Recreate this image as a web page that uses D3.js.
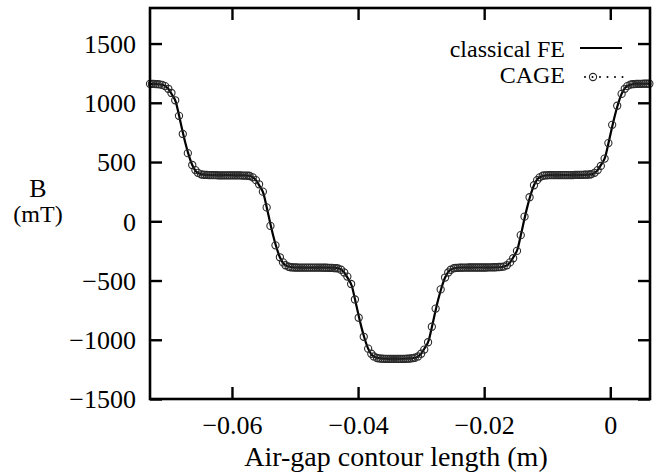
<!DOCTYPE html>
<html>
<head>
<meta charset="utf-8">
<script src="https://cdn.jsdelivr.net/npm/d3@7"></script>
<style>
  html, body { margin: 0; padding: 0; background: #fff; }
  #chart text { font-family: 'Liberation Serif', 'DejaVu Serif', serif; }
</style>
</head>
<body>
<svg id="chart" width="667" height="472"></svg>
<script>
// tick values
const xTicks = [-0.06, -0.04, -0.02, 0];
const yTicks = [-1500, -1000, -500, 0, 500, 1000, 1500];

// classical FE (solid line): contour length (m), B (mT)
const feX = [
  -0.0730,
  -0.0719, -0.0709, -0.0701, -0.0695, -0.0689, -0.0684, -0.0679, -0.0674, -0.0669, -0.0663, -0.0657, -0.0649, -0.0639,
  -0.0610,
  -0.0580, -0.0570, -0.0562, -0.0556, -0.0550, -0.0545, -0.0540, -0.0535, -0.0530, -0.0524, -0.0518, -0.0510, -0.0500,
  -0.0470,
  -0.0440, -0.0430, -0.0422, -0.0416, -0.0410, -0.0405, -0.0400, -0.0395, -0.0390, -0.0384, -0.0378, -0.0370, -0.0360,
  -0.0339,
  -0.0318, -0.0308, -0.0300, -0.0294, -0.0288, -0.0283, -0.0278, -0.0273, -0.0268, -0.0262, -0.0256, -0.0248, -0.0238,
  -0.0208,
  -0.0177, -0.0167, -0.0159, -0.0153, -0.0147, -0.0142, -0.0137, -0.0132, -0.0127, -0.0121, -0.0115, -0.0107, -0.0097,
  -0.0068,
  -0.0038, -0.0028, -0.0020, -0.0014, -0.0008, -0.0003, 0.0002, 0.0007, 0.0012, 0.0018, 0.0024, 0.0032, 0.0042,
  0.0063
];
const feB = [
  1160,
  1158, 1150, 1118, 1068, 1006, 894, 775, 663, 567, 475, 421, 398, 390,
  389,
  388, 380, 347, 296, 234, 121, 0, -113, -211, -304, -359, -382, -390,
  -391,
  -392, -400, -432, -482, -544, -656, -775, -887, -983, -1075, -1129, -1152, -1160,
  -1162,
  -1158, -1150, -1118, -1068, -1006, -894, -775, -663, -567, -475, -421, -398, -390,
  -390,
  -388, -380, -347, -296, -234, -121, 0, 113, 211, 304, 359, 382, 390,
  390,
  392, 400, 432, 482, 544, 656, 775, 887, 983, 1075, 1129, 1152, 1160,
  1161
];

// CAGE (circles): contour length (m), B (mT)
const cageX = [
  -0.0730, -0.0727, -0.0724, -0.0721, -0.0718, -0.0715,
  -0.0711, -0.0706, -0.0701, -0.0696, -0.0690, -0.0684, -0.0678, -0.0670, -0.0663, -0.0658, -0.0654, -0.0649,
  -0.0646, -0.0643, -0.0640, -0.0637, -0.0634, -0.0631, -0.0628, -0.0625, -0.0622, -0.0619, -0.0616, -0.0613, -0.0610,
  -0.0607, -0.0604, -0.0601, -0.0598, -0.0595, -0.0592, -0.0589, -0.0586, -0.0583, -0.0580, -0.0577, -0.0574,
  -0.0572, -0.0567, -0.0562, -0.0557, -0.0551, -0.0545, -0.0539, -0.0531, -0.0524, -0.0519, -0.0515, -0.0510,
  -0.0507, -0.0504, -0.0501, -0.0498, -0.0495, -0.0492, -0.0489, -0.0486, -0.0483, -0.0480, -0.0477, -0.0474, -0.0471,
  -0.0468, -0.0465, -0.0462, -0.0459, -0.0456, -0.0453, -0.0450, -0.0447, -0.0444, -0.0441, -0.0438, -0.0435,
  -0.0432, -0.0427, -0.0422, -0.0417, -0.0411, -0.0405, -0.0399, -0.0391, -0.0384, -0.0379, -0.0375, -0.0370,
  -0.0367, -0.0364, -0.0361, -0.0358, -0.0355, -0.0352, -0.0349, -0.0346, -0.0343, -0.0340, -0.0337, -0.0334, -0.0331,
  -0.0328, -0.0325, -0.0322, -0.0319, -0.0316, -0.0313,
  -0.0310, -0.0305, -0.0300, -0.0295, -0.0289, -0.0283, -0.0277, -0.0269, -0.0262, -0.0257, -0.0253, -0.0248,
  -0.0245, -0.0242, -0.0239, -0.0236, -0.0233, -0.0230, -0.0227, -0.0224, -0.0221, -0.0218, -0.0215, -0.0212, -0.0209,
  -0.0206, -0.0203, -0.0200, -0.0197, -0.0194, -0.0191, -0.0188, -0.0185, -0.0182, -0.0179, -0.0176, -0.0173,
  -0.0169, -0.0164, -0.0159, -0.0154, -0.0148, -0.0142, -0.0136, -0.0128, -0.0121, -0.0116, -0.0112, -0.0107,
  -0.0104, -0.0101, -0.0098, -0.0095, -0.0092, -0.0089, -0.0086, -0.0083, -0.0080, -0.0077, -0.0074, -0.0071, -0.0068,
  -0.0065, -0.0062, -0.0059, -0.0056, -0.0053, -0.0050, -0.0047, -0.0044, -0.0041, -0.0038, -0.0035, -0.0032,
  -0.0030, -0.0025, -0.0020, -0.0015, -0.0009, -0.0003, 0.0003, 0.0011, 0.0018, 0.0023, 0.0027, 0.0032,
  0.0035, 0.0038, 0.0041, 0.0044, 0.0047, 0.0050, 0.0053, 0.0056, 0.0059, 0.0062
];
const cageB = [
  1160, 1160, 1159, 1158, 1157, 1155,
  1152, 1141, 1118, 1083, 1021, 890, 737, 575, 475, 432, 409, 396,
  393, 392, 391, 390, 390, 389, 389, 389, 388, 388, 388, 388, 388,
  388, 388, 388, 388, 388, 388, 387, 387, 386, 386, 385, 384,
  382, 371, 347, 312, 250, 117, -39, -203, -304, -347, -371, -384,
  -388, -389, -390, -390, -391, -391, -391, -391, -391, -391, -391, -391, -391,
  -391, -391, -391, -391, -392, -392, -392, -393, -393, -394, -395, -396,
  -398, -409, -432, -467, -529, -660, -814, -975, -1075, -1118, -1141, -1154,
  -1157, -1159, -1160, -1161, -1161, -1162, -1162, -1162, -1162, -1162, -1162, -1162, -1162,
  -1161, -1161, -1160, -1159, -1157, -1155,
  -1152, -1141, -1118, -1083, -1021, -890, -737, -575, -475, -432, -409, -396,
  -394, -393, -392, -392, -391, -391, -391, -390, -390, -390, -390, -390, -390,
  -390, -390, -390, -390, -389, -389, -389, -388, -388, -387, -386, -385,
  -382, -371, -347, -312, -250, -117, 39, 203, 304, 347, 371, 384,
  387, 388, 389, 389, 390, 390, 390, 390, 390, 390, 390, 390, 390,
  390, 390, 390, 391, 391, 391, 392, 392, 393, 393, 394, 395,
  398, 409, 432, 467, 529, 660, 814, 975, 1075, 1118, 1141, 1154,
  1157, 1158, 1159, 1160, 1160, 1160, 1161, 1161, 1161, 1161
];

const seriesNames = ['classical FE', 'CAGE'];

const margin = {left: 150, right: 17, top: 8, bottom: 73};
const width = 667 - margin.left - margin.right;
const height = 472 - margin.top - margin.bottom;

const svg = d3.select('#chart');
const g = svg.append('g').attr('transform', `translate(${margin.left},${margin.top})`);

const x = d3.scaleLinear().domain([-0.073, 0.0063]).range([0, width]);
const y = d3.scaleLinear().domain([-1500, 1800]).range([height, 0]);

const tickLen = 12;
const xFormat = d => d === 0 ? '0' : d3.format('.2f')(d);

function styleAxis(sel) {
  sel.attr('font-family', null).attr('font-size', 26);
  sel.select('.domain').remove();
  sel.selectAll('.tick line').attr('stroke', '#000').attr('stroke-width', 2.4);
  sel.selectAll('.tick text').attr('fill', '#000');
}

g.append('g')
  .call(d3.axisLeft(y).tickValues(yTicks).tickSize(-tickLen).tickPadding(14).tickFormat(d3.format('d')))
  .call(styleAxis)
  .selectAll('.tick text').attr('dy', '0.34em');

g.append('g')
  .attr('transform', `translate(${width},0)`)
  .call(d3.axisRight(y).tickValues(yTicks).tickSize(-tickLen).tickFormat(''))
  .call(styleAxis);

g.append('g')
  .attr('transform', `translate(0,${height})`)
  .call(d3.axisBottom(x).tickValues(xTicks).tickSize(-tickLen).tickPadding(17).tickFormat(xFormat))
  .call(styleAxis);

g.append('g')
  .call(d3.axisTop(x).tickValues(xTicks).tickSize(-tickLen).tickFormat(''))
  .call(styleAxis);

// series
const feData = feX.map((v, i) => [v, feB[i]]);
const cageData = cageX.map((v, i) => [v, cageB[i]]);

const line = d3.line()
  .x(d => x(d[0]))
  .y(d => y(d[1]))
  .curve(d3.curveMonotoneX);

g.append('path')
  .datum(feData)
  .attr('fill', 'none')
  .attr('stroke', '#000')
  .attr('stroke-width', 2.2)
  .attr('d', line);

g.append('g')
  .selectAll('circle')
  .data(cageData)
  .enter().append('circle')
  .attr('cx', d => x(d[0]))
  .attr('cy', d => y(d[1]))
  .attr('r', 3.6)
  .attr('fill', 'none')
  .attr('stroke', '#2a2a2a')
  .attr('stroke-width', 1.1);

// frame
g.append('rect')
  .attr('width', width)
  .attr('height', height)
  .attr('fill', 'none')
  .attr('stroke', '#000')
  .attr('stroke-width', 2.6);

// legend
const legend = g.append('g')
  .attr('transform', `translate(${565 - margin.left},0)`);
legend.append('text')
  .attr('x', 0).attr('y', 49)
  .attr('text-anchor', 'end')
  .attr('font-size', 24)
  .text(seriesNames[0]);
legend.append('line')
  .attr('x1', 15).attr('x2', 57).attr('y1', 40).attr('y2', 40)
  .attr('stroke', '#000').attr('stroke-width', 2.2);
legend.append('text')
  .attr('x', 0).attr('y', 75)
  .attr('text-anchor', 'end')
  .attr('font-size', 24)
  .text(seriesNames[1]);
legend.append('line')
  .attr('x1', 20).attr('x2', 58).attr('y1', 69).attr('y2', 69)
  .attr('stroke', '#000').attr('stroke-width', 2)
  .attr('stroke-linecap', 'round')
  .attr('stroke-dasharray', '0,7.5');
legend.append('circle')
  .attr('cx', 28).attr('cy', 69).attr('r', 3.6)
  .attr('fill', 'none').attr('stroke', '#2a2a2a').attr('stroke-width', 1.1);

// axis titles
const titles = svg.append('g').attr('fill', '#000');
titles.append('text')
  .attr('x', 396).attr('y', 466)
  .attr('text-anchor', 'middle')
  .attr('font-size', 28)
  .text('Air-gap contour length (m)');
titles.append('text')
  .attr('x', 38).attr('y', 197)
  .attr('text-anchor', 'middle')
  .attr('font-size', 26)
  .text('B');
titles.append('text')
  .attr('x', 38).attr('y', 222)
  .attr('text-anchor', 'middle')
  .attr('font-size', 24)
  .text('(mT)');
</script>
</body>
</html>
